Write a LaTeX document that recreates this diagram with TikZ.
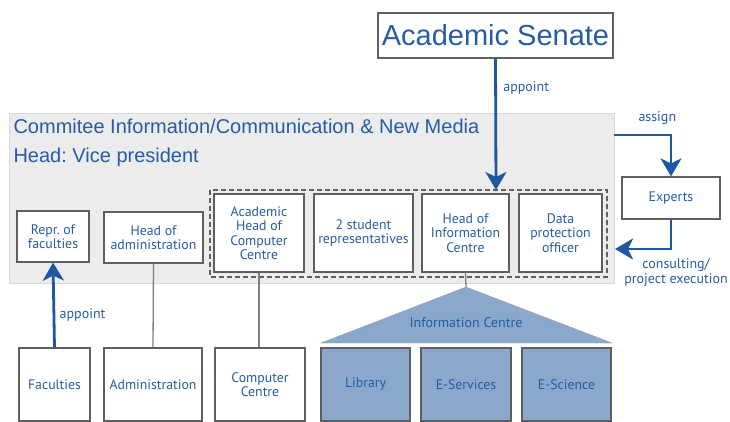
\documentclass[tikz,border=0pt]{standalone}
\usepackage{fontspec}
\setmainfont{Liberation Sans}
\newfontfamily\boxfont{PT Sans}
\usetikzlibrary{arrows.meta,shadows}
\frenchspacing

\definecolor{txtblue}{RGB}{38,92,165}
\definecolor{arrblue}{RGB}{30,88,160}
\definecolor{unitfill}{RGB}{138,168,204}
\definecolor{panelfill}{RGB}{236,236,236}
\definecolor{boxline}{RGB}{95,95,95}

\tikzset{
  member/.style={draw=boxline, line width=1.2pt, fill=white, text=txtblue,
    font=\boxfont\fontsize{13.8}{14.5}\selectfont, align=center, inner sep=1pt,
    drop shadow={opacity=0.25, shadow xshift=1pt, shadow yshift=-1pt}},
  unit/.style={member, fill=unitfill},
  link/.style={draw=boxline!80, line width=1.3pt},
  flow/.style={draw=arrblue, line width=2.8pt,
    -{Stealth[length=18pt 0 0,width=21pt 0 0,inset=5pt 0 0]}},
  lbl/.style={text=txtblue, font=\boxfont\fontsize{14}{15}\selectfont, align=center}
}

\begin{document}
\begin{tikzpicture}[x=1pt,y=-1pt]
  \useasboundingbox (0,0) rectangle (730,422);

  % committee panel
  \fill[panelfill, draw=black!15] (9,113) rectangle (614,283);
  \node[anchor=base west, text=txtblue, font=\fontsize{20}{22}\selectfont] (title) at (10,134) {Commitee Information/Communication \& New Media};
  \node[anchor=base west, text=txtblue, font=\fontsize{20}{22}\selectfont] (head) at (10,163) {Head: Vice president};

  \node[member, minimum width=235pt, minimum height=45pt, font=\fontsize{29}{31}\selectfont] (senate) at (495.5,35.5) {Academic Senate};

  % members
  \node[member, minimum width=72pt, minimum height=51pt] (repr) at (53,236.5) {Repr. of\\faculties};
  \node[member, minimum width=99pt, minimum height=51pt] (headadm) at (153.5,237.5) {Head of\\administration};
  \draw[boxline, line width=1.2pt, dash pattern=on 5pt off 3pt] (210,190) rectangle (607,277);
  \coordinate (dashtop) at (496,190);
  \node[member, minimum width=90pt, minimum height=78pt] (acadhead) at (259,233) {Academic\\Head of\\Computer\\Centre};
  \node[member, minimum width=99pt, minimum height=78pt] (students) at (363.5,233) {2 student\\representatives};
  \node[member, minimum width=87pt, minimum height=78pt] (headinfo) at (465.5,233) {Head of\\Information\\Centre};
  \node[member, minimum width=83pt, minimum height=78pt] (dataprot) at (560.5,233) {Data\\protection\\officer};
  \node[member, minimum width=98pt, minimum height=42pt] (experts) at (671,198) {Experts};

  % bottom row
  \node[member, minimum width=71pt, minimum height=73pt] (faculties) at (54.5,384.5) {Faculties};
  \node[member, minimum width=98pt, minimum height=73pt] (admin) at (153,384.5) {Administration};
  \node[member, minimum width=90pt, minimum height=73pt] (compctr) at (260,384.5) {Computer\\Centre};
  \node[unit, minimum width=89pt, minimum height=73pt] (library) at (365.5,384.5) {Library};
  \node[unit, minimum width=90pt, minimum height=73pt] (eserv) at (466,384.5) {E-Services};
  \node[unit, minimum width=89pt, minimum height=73pt] (esci) at (566.5,384.5) {E-Science};

  % information centre roof
  \coordinate (apex) at (466,287);
  \fill[unitfill, draw=boxline!60] (apex) -- (612,343) -- (321,343) -- cycle;
  \node[lbl] (infoctr) at (466,323) {Information Centre};

  % connectors
  \draw[link] (headadm.south) -- (admin.north);
  \draw[link] (acadhead.south) -- (acadhead.south |- compctr.north);
  \draw[link] (headinfo.south) -- (apex);
  \draw[flow] (faculties.north) -- (repr.south) node[lbl, pos=0.38, right, xshift=1pt] {appoint};
  \draw[flow] (senate.south) -- (dashtop) node[lbl, pos=0.22, right, xshift=3pt] {appoint};
  \coordinate (panelr) at (614,135);
  \coordinate (back) at (615,249);
  \draw[flow] (panelr) -| (experts.north) node[lbl, pos=0.38, above, yshift=6pt] {assign};
  \draw[flow] (experts.south) |- (back);
  \node[lbl, anchor=north, align=center] (consult) at (676,255) {consulting/\\project execution};
\end{tikzpicture}
\end{document}
